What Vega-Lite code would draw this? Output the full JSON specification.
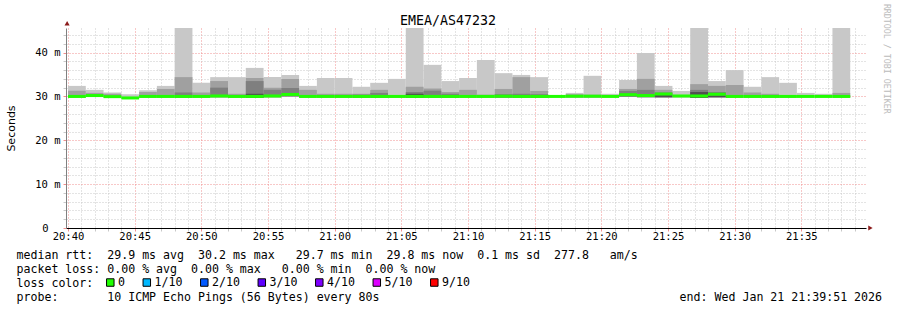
{
  "$schema": "https://vega.github.io/schema/vega-lite/v6.json",
  "width": 800,
  "height": 200,
  "autosize": {"type": "none"},
  "padding": {"left": 66, "top": 28, "right": 31, "bottom": 82},
  "background": "white",
  "config": {"view": {"stroke": null}},
  "title": {"text": "EMEA/AS47232", "font": "DejaVu Sans Mono", "fontSize": 13.3, "fontWeight": "normal", "color": "#000000", "frame": "group", "anchor": "middle", "dx": -18, "offset": -23.3},
  "data": {
    "values": [
      {"t": "2026-01-21T20:40:00Z", "te": "2026-01-21T20:41:20Z", "lo": 29.7, "b1": 32.4, "b2": 31.3, "b3": null, "b4": null, "med": 30.0, "loss": "0"},
      {"t": "2026-01-21T20:41:20Z", "te": "2026-01-21T20:42:40Z", "lo": 29.9, "b1": 31.5, "b2": 30.8, "b3": null, "b4": null, "med": 30.2, "loss": "0"},
      {"t": "2026-01-21T20:42:40Z", "te": "2026-01-21T20:44:00Z", "lo": 29.7, "b1": 30.9, "b2": 30.6, "b3": null, "b4": null, "med": 29.95, "loss": "0"},
      {"t": "2026-01-21T20:44:00Z", "te": "2026-01-21T20:45:20Z", "lo": 29.4, "b1": 30.5, "b2": null, "b3": null, "b4": null, "med": 29.65, "loss": "0"},
      {"t": "2026-01-21T20:45:20Z", "te": "2026-01-21T20:46:40Z", "lo": 29.7, "b1": 31.4, "b2": 31.0, "b3": null, "b4": null, "med": 30.0, "loss": "0"},
      {"t": "2026-01-21T20:46:40Z", "te": "2026-01-21T20:48:00Z", "lo": 29.7, "b1": 32.4, "b2": 31.7, "b3": null, "b4": null, "med": 30.0, "loss": "0"},
      {"t": "2026-01-21T20:48:00Z", "te": "2026-01-21T20:49:20Z", "lo": 29.7, "b1": 45.6, "b2": 34.4, "b3": 30.9, "b4": null, "med": 30.0, "loss": "0"},
      {"t": "2026-01-21T20:49:20Z", "te": "2026-01-21T20:50:40Z", "lo": 29.7, "b1": 33.1, "b2": 30.9, "b3": null, "b4": null, "med": 30.0, "loss": "0"},
      {"t": "2026-01-21T20:50:40Z", "te": "2026-01-21T20:52:00Z", "lo": 29.8, "b1": 34.4, "b2": 33.5, "b3": 32.0, "b4": null, "med": 30.1, "loss": "0"},
      {"t": "2026-01-21T20:52:00Z", "te": "2026-01-21T20:53:20Z", "lo": 29.7, "b1": 34.4, "b2": 30.6, "b3": null, "b4": null, "med": 30.0, "loss": "0"},
      {"t": "2026-01-21T20:53:20Z", "te": "2026-01-21T20:54:40Z", "lo": 29.7, "b1": 36.5, "b2": 34.2, "b3": 33.5, "b4": 30.6, "med": 30.0, "loss": "0"},
      {"t": "2026-01-21T20:54:40Z", "te": "2026-01-21T20:56:00Z", "lo": 29.8, "b1": 34.4, "b2": 32.0, "b3": 31.5, "b4": null, "med": 30.1, "loss": "0"},
      {"t": "2026-01-21T20:56:00Z", "te": "2026-01-21T20:57:20Z", "lo": 30.0, "b1": 34.9, "b2": 34.0, "b3": 31.9, "b4": null, "med": 30.45, "loss": "0"},
      {"t": "2026-01-21T20:57:20Z", "te": "2026-01-21T20:58:40Z", "lo": 29.7, "b1": 32.4, "b2": 31.5, "b3": null, "b4": null, "med": 30.0, "loss": "0"},
      {"t": "2026-01-21T20:58:40Z", "te": "2026-01-21T21:00:00Z", "lo": 29.7, "b1": 34.2, "b2": 30.6, "b3": null, "b4": null, "med": 30.0, "loss": "0"},
      {"t": "2026-01-21T21:00:00Z", "te": "2026-01-21T21:01:20Z", "lo": 29.7, "b1": 34.2, "b2": 30.6, "b3": null, "b4": null, "med": 30.0, "loss": "0"},
      {"t": "2026-01-21T21:01:20Z", "te": "2026-01-21T21:02:40Z", "lo": 29.7, "b1": 32.2, "b2": 30.6, "b3": 30.4, "b4": null, "med": 30.0, "loss": "0"},
      {"t": "2026-01-21T21:02:40Z", "te": "2026-01-21T21:04:00Z", "lo": 29.7, "b1": 33.1, "b2": 31.5, "b3": 30.8, "b4": null, "med": 30.0, "loss": "0"},
      {"t": "2026-01-21T21:04:00Z", "te": "2026-01-21T21:05:20Z", "lo": 29.7, "b1": 34.0, "b2": 30.3, "b3": null, "b4": null, "med": 30.0, "loss": "0"},
      {"t": "2026-01-21T21:05:20Z", "te": "2026-01-21T21:06:40Z", "lo": 29.7, "b1": 45.6, "b2": 32.2, "b3": 31.0, "b4": 30.6, "med": 30.0, "loss": "0"},
      {"t": "2026-01-21T21:06:40Z", "te": "2026-01-21T21:08:00Z", "lo": 29.7, "b1": 37.2, "b2": 31.8, "b3": 31.3, "b4": null, "med": 30.0, "loss": "0"},
      {"t": "2026-01-21T21:08:00Z", "te": "2026-01-21T21:09:20Z", "lo": 29.7, "b1": 33.5, "b2": 31.0, "b3": 30.6, "b4": null, "med": 30.0, "loss": "0"},
      {"t": "2026-01-21T21:09:20Z", "te": "2026-01-21T21:10:40Z", "lo": 29.7, "b1": 34.2, "b2": 31.5, "b3": null, "b4": null, "med": 30.0, "loss": "0"},
      {"t": "2026-01-21T21:10:40Z", "te": "2026-01-21T21:12:00Z", "lo": 29.7, "b1": 38.3, "b2": 30.4, "b3": null, "b4": null, "med": 30.0, "loss": "0"},
      {"t": "2026-01-21T21:12:00Z", "te": "2026-01-21T21:13:20Z", "lo": 29.7, "b1": 35.3, "b2": 31.7, "b3": 30.5, "b4": null, "med": 30.05, "loss": "0"},
      {"t": "2026-01-21T21:13:20Z", "te": "2026-01-21T21:14:40Z", "lo": 29.7, "b1": 34.9, "b2": 34.4, "b3": 30.6, "b4": null, "med": 30.0, "loss": "0"},
      {"t": "2026-01-21T21:14:40Z", "te": "2026-01-21T21:16:00Z", "lo": 29.7, "b1": 34.4, "b2": 31.25, "b3": 30.5, "b4": null, "med": 30.0, "loss": "0"},
      {"t": "2026-01-21T21:16:00Z", "te": "2026-01-21T21:17:20Z", "lo": 29.7, "b1": 30.3, "b2": null, "b3": null, "b4": null, "med": 30.0, "loss": "0"},
      {"t": "2026-01-21T21:17:20Z", "te": "2026-01-21T21:18:40Z", "lo": 29.7, "b1": 30.8, "b2": 30.5, "b3": null, "b4": null, "med": 30.05, "loss": "0"},
      {"t": "2026-01-21T21:18:40Z", "te": "2026-01-21T21:20:00Z", "lo": 29.7, "b1": 34.7, "b2": 30.4, "b3": null, "b4": null, "med": 30.05, "loss": "0"},
      {"t": "2026-01-21T21:20:00Z", "te": "2026-01-21T21:21:20Z", "lo": 29.7, "b1": 30.6, "b2": null, "b3": null, "b4": null, "med": 30.0, "loss": "0"},
      {"t": "2026-01-21T21:21:20Z", "te": "2026-01-21T21:22:40Z", "lo": 29.9, "b1": 33.75, "b2": 31.7, "b3": 31.25, "b4": null, "med": 30.4, "loss": "0"},
      {"t": "2026-01-21T21:22:40Z", "te": "2026-01-21T21:24:00Z", "lo": 29.8, "b1": 39.9, "b2": 34.0, "b3": 31.5, "b4": null, "med": 30.2, "loss": "0"},
      {"t": "2026-01-21T21:24:00Z", "te": "2026-01-21T21:25:20Z", "lo": 29.8, "b1": 32.4, "b2": 31.5, "b3": 30.9, "b4": 30.3, "med": 30.55, "loss": "0"},
      {"t": "2026-01-21T21:25:20Z", "te": "2026-01-21T21:26:40Z", "lo": 29.7, "b1": 31.25, "b2": null, "b3": null, "b4": null, "med": 30.1, "loss": "0"},
      {"t": "2026-01-21T21:26:40Z", "te": "2026-01-21T21:28:00Z", "lo": 29.7, "b1": 45.6, "b2": 32.8, "b3": 31.5, "b4": 31.0, "med": 30.1, "loss": "0"},
      {"t": "2026-01-21T21:28:00Z", "te": "2026-01-21T21:29:20Z", "lo": 29.8, "b1": 33.5, "b2": 32.4, "b3": 31.0, "b4": 30.2, "med": 30.5, "loss": "0"},
      {"t": "2026-01-21T21:29:20Z", "te": "2026-01-21T21:30:40Z", "lo": 29.7, "b1": 36.0, "b2": 32.6, "b3": null, "b4": null, "med": 30.0, "loss": "0"},
      {"t": "2026-01-21T21:30:40Z", "te": "2026-01-21T21:32:00Z", "lo": 29.7, "b1": 32.2, "b2": 30.9, "b3": null, "b4": null, "med": 30.0, "loss": "0"},
      {"t": "2026-01-21T21:32:00Z", "te": "2026-01-21T21:33:20Z", "lo": 29.7, "b1": 34.4, "b2": 30.6, "b3": null, "b4": null, "med": 30.0, "loss": "0"},
      {"t": "2026-01-21T21:33:20Z", "te": "2026-01-21T21:34:40Z", "lo": 29.7, "b1": 33.1, "b2": 30.3, "b3": null, "b4": null, "med": 30.0, "loss": "0"},
      {"t": "2026-01-21T21:34:40Z", "te": "2026-01-21T21:36:00Z", "lo": 29.7, "b1": 30.8, "b2": null, "b3": null, "b4": null, "med": 30.0, "loss": "0"},
      {"t": "2026-01-21T21:36:00Z", "te": "2026-01-21T21:37:20Z", "lo": 29.7, "b1": 30.6, "b2": null, "b3": null, "b4": null, "med": 30.0, "loss": "0"},
      {"t": "2026-01-21T21:37:20Z", "te": "2026-01-21T21:38:40Z", "lo": 29.7, "b1": 45.6, "b2": 30.8, "b3": null, "b4": null, "med": 30.0, "loss": "0"}
    ]
  },
  "layer": [
    {
      "mark": {"type": "rect", "color": "#c8c8c8", "clip": true},
      "encoding": {
        "x": {
          "field": "t", "type": "temporal",
          "scale": {"type": "utc", "domain": [1769027991000, 1769031591000]},
          "axis": {
            "orient": "bottom",
            "title": ["median\u00a0rtt:\u00a0\u00a029.9\u00a0ms\u00a0avg\u00a0\u00a030.2\u00a0ms\u00a0max\u00a0\u00a0\u00a029.7\u00a0ms\u00a0min\u00a0\u00a029.8\u00a0ms\u00a0now\u00a0\u00a00.1\u00a0ms\u00a0sd\u00a0\u00a0277.8\u00a0\u00a0\u00a0am/s", "packet\u00a0loss:\u00a00.00\u00a0%\u00a0avg\u00a0\u00a00.00\u00a0%\u00a0max\u00a0\u00a0\u00a00.00\u00a0%\u00a0min\u00a0\u00a00.00\u00a0%\u00a0now", "loss\u00a0color:", "probe:\u00a0\u00a0\u00a0\u00a0\u00a0\u00a0\u00a010\u00a0ICMP\u00a0Echo\u00a0Pings\u00a0(56\u00a0Bytes)\u00a0every\u00a080s\u00a0\u00a0\u00a0\u00a0\u00a0\u00a0\u00a0\u00a0\u00a0\u00a0\u00a0\u00a0\u00a0\u00a0\u00a0\u00a0\u00a0\u00a0\u00a0\u00a0\u00a0\u00a0\u00a0\u00a0\u00a0\u00a0\u00a0\u00a0\u00a0\u00a0\u00a0\u00a0\u00a0\u00a0\u00a0\u00a0\u00a0\u00a0\u00a0\u00a0\u00a0\u00a0\u00a0end:\u00a0Wed\u00a0Jan\u00a021\u00a021:39:51\u00a02026"],
            "tickCount": 60,
            "labelExpr": "utcminutes(datum.value) % 5 == 0 ? utcFormat(datum.value, '%H:%M') : ''",
            "labelOverlap": false,
            "labelFlush": false,
            "labelFont": "DejaVu Sans Mono",
            "labelFontSize": 10.5,
            "labelColor": "#000000",
            "labelPadding": 0,
            "grid": true,
            "gridColor": {"condition": {"test": "utcminutes(datum.value) % 5 == 0", "value": "#f09090"}, "value": "#c8c8c8"},
            "gridDash": [1, 2],
            "tickColor": {"condition": {"test": "utcminutes(datum.value) % 5 == 0", "value": "#f09090"}, "value": "#c8c8c8"},
            "tickSize": 3,
            "domainColor": "#000000",
            "titleFont": "DejaVu Sans Mono",
            "titleFontSize": 11.6,
            "titleFontWeight": "normal",
            "titleColor": "#000000",
            "titleX": -50,
            "titleY": 21.8,
            "titleAlign": "left",
            "titleBaseline": "top",
            "titleLineHeight": 14
          }
        },
        "x2": {"field": "te"},
        "y": {
          "field": "lo", "type": "quantitative",
          "scale": {"domain": [0, 45.6], "nice": false, "zero": true},
          "axis": {
            "orient": "left",
            "title": "Seconds",
            "values": [0, 2, 4, 6, 8, 10, 12, 14, 16, 18, 20, 22, 24, 26, 28, 30, 32, 34, 36, 38, 40, 42, 44],
            "tickCount": 100,
            "format": "d",
            "labelExpr": "datum.value == 0 ? '0' : (datum.value % 10 == 0 ? datum.label + ' m' : '')",
            "labelOverlap": false,
            "labelFlush": false,
            "labelFont": "DejaVu Sans Mono",
            "labelFontSize": 10.5,
            "labelColor": "#000000",
            "labelPadding": {"condition": {"test": "datum.value == 0", "value": 15}, "value": 3},
            "grid": true,
            "gridColor": {"condition": {"test": "datum.value % 10 == 0", "value": "#f09090"}, "value": "#c8c8c8"},
            "gridDash": [1, 2],
            "tickColor": {"condition": {"test": "datum.value % 10 == 0", "value": "#f09090"}, "value": "#c8c8c8"},
            "tickSize": 3,
            "domainColor": "#808080",
            "titleFont": "DejaVu Sans",
            "titleFontSize": 11,
            "titleFontWeight": "normal",
            "titleColor": "#000000",
            "titleX": -52,
            "titleY": 100,
            "titleBaseline": "alphabetic"
          }
        },
        "y2": {"field": "b1"}
      }
    },
    {
      "transform": [{"filter": "datum.b2 != null"}],
      "mark": {"type": "rect", "color": "#a0a0a0", "clip": true},
      "encoding": {
        "x": {"field": "t", "type": "temporal"},
        "x2": {"field": "te"},
        "y": {"field": "lo", "type": "quantitative"},
        "y2": {"field": "b2"}
      }
    },
    {
      "transform": [{"filter": "datum.b3 != null"}],
      "mark": {"type": "rect", "color": "#7f7f7f", "clip": true},
      "encoding": {
        "x": {"field": "t", "type": "temporal"},
        "x2": {"field": "te"},
        "y": {"field": "lo", "type": "quantitative"},
        "y2": {"field": "b3"}
      }
    },
    {
      "transform": [{"filter": "datum.b4 != null"}],
      "mark": {"type": "rect", "color": "#505050", "clip": true},
      "encoding": {
        "x": {"field": "t", "type": "temporal"},
        "x2": {"field": "te"},
        "y": {"field": "lo", "type": "quantitative"},
        "y2": {"field": "b4"}
      }
    },
    {
      "mark": {"type": "rule", "strokeWidth": 3, "clip": true, "color": "#20ff00"},
      "encoding": {
        "x": {"field": "t", "type": "temporal"},
        "x2": {"field": "te"},
        "y": {"field": "med", "type": "quantitative"}
      }
    },
    {
      "mark": {"type": "point", "shape": "square", "filled": true, "opacity": 0, "stroke": "#000000", "strokeWidth": 1, "size": 56},
      "encoding": {
        "x": {"field": "t", "type": "temporal"},
        "y": {"field": "med", "type": "quantitative"},
        "color": {
          "field": "loss", "type": "nominal",
          "scale": {"domain": ["0", "1/10", "2/10", "3/10", "4/10", "5/10", "9/10"], "range": ["#20ff00", "#00b8ff", "#0059ff", "#5e00ff", "#7e00ff", "#dd00ff", "#ff0000"]},
          "legend": {
            "orient": "none",
            "legendX": 38.5,
            "legendY": 248.5,
            "direction": "horizontal",
            "title": null,
            "symbolType": "square",
            "symbolSize": 56,
            "symbolOpacity": 1,
            "symbolStrokeColor": "#000000",
            "symbolStrokeWidth": 1,
            "labelFont": "DejaVu Sans Mono",
            "labelFontSize": 11.6,
            "labelColor": "#000000",
            "labelOffset": 2,
            "columnPadding": 15.5,
            "padding": 0,
            "offset": 0
          }
        }
      }
    },
    {
      "data": {"values": [{"mark": "x-arrow"}]},
      "mark": {"type": "point", "shape": "triangle-right", "filled": true, "color": "#8b1a1a", "size": 26, "opacity": 1},
      "encoding": {
        "x": {"datum": 1769031611000, "type": "temporal"},
        "y": {"datum": 0, "type": "quantitative"}
      }
    },
    {
      "data": {"values": [{"mark": "y-arrow"}]},
      "mark": {"type": "point", "shape": "triangle-up", "filled": true, "color": "#8b1a1a", "size": 26, "opacity": 1},
      "encoding": {
        "x": {"datum": 1769027996000, "type": "temporal"},
        "y": {"datum": 46.7, "type": "quantitative"}
      }
    },
    {
      "data": {"values": [{"label": "RRDTOOL / TOBI OETIKER"}]},
      "mark": {"type": "text", "angle": 90, "align": "left", "baseline": "middle", "font": "DejaVu Sans Mono", "fontSize": 8.3, "color": "#bbbbbb"},
      "encoding": {
        "x": {"datum": 1769031681000, "type": "temporal"},
        "y": {"datum": 51.1, "type": "quantitative"},
        "text": {"field": "label"}
      }
    }
  ]
}
